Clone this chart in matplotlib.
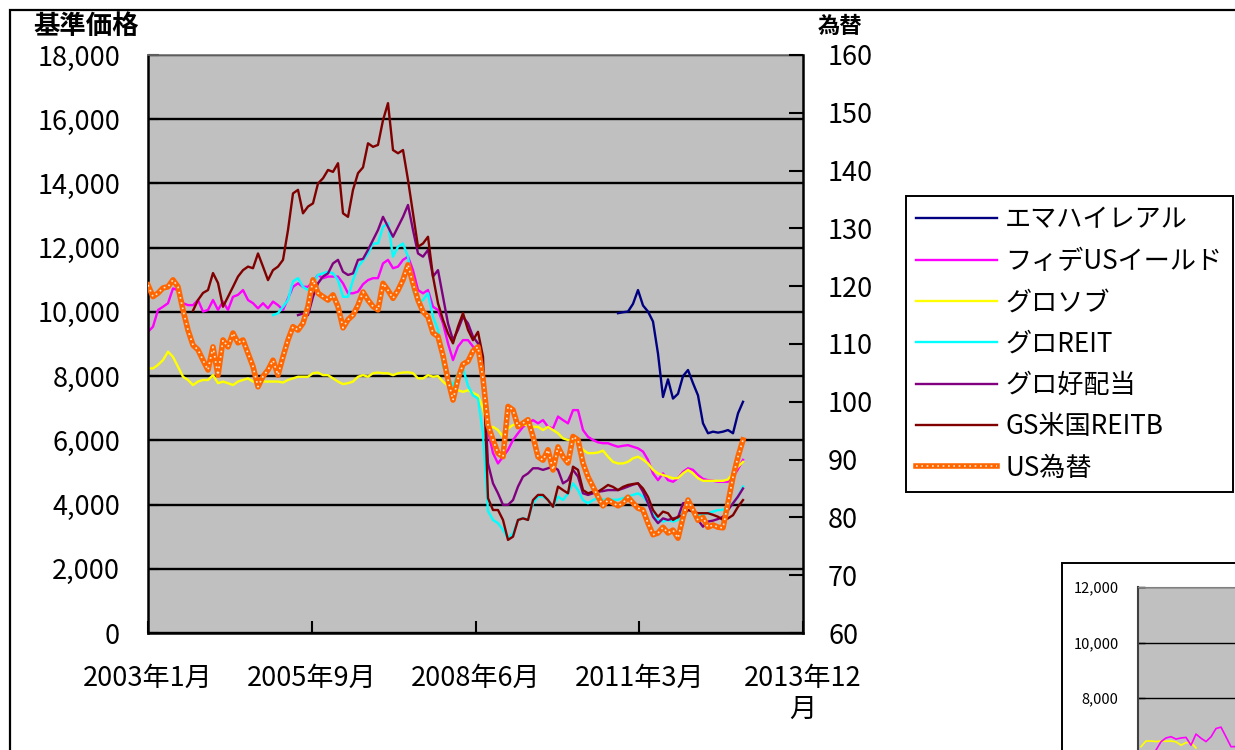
import matplotlib
matplotlib.use('Agg')
import matplotlib.pyplot as plt
import numpy as np
from matplotlib.lines import Line2D
from matplotlib.legend_handler import HandlerTuple
from matplotlib.patches import Rectangle
from matplotlib.ticker import FuncFormatter, MultipleLocator, FixedLocator

plt.rcParams['font.family'] = ['Noto Sans CJK JP', 'DejaVu Sans']

# ---------------- data (monthly, index 0 = 2003年1月) ----------------
x_tick_pos = [0, 32.75, 65.5, 98.25, 131]
x_tick_labels = ['2003年1月', '2005年9月', '2008年6月', '2011年3月', '2013年12\n月']

names = ['エマハイレアル', 'フィデUSイールド', 'グロソブ', 'グロREIT', 'グロ好配当', 'GS米国REITB']
colors = ['#000080', '#FF00FF', '#FFFF00', '#00FFFF', '#800080', '#800000']

emahai_start = 94
emahai = [9960, 9990, 10010, 10250, 10680, 10200, 10010, 9700, 8700, 7350,
          7900, 7300, 7450, 8000, 8190, 7780, 7400, 6530, 6220, 6270,
          6240, 6270, 6320, 6220, 6840, 7200]

fide_start = 0
fide = [9380, 9540, 10060, 10160, 10270, 10730, 10680, 10270, 10210, 10210,
        10370, 10010, 10060, 10370, 10060, 10320, 10060, 10470, 10530, 10680,
        10370, 10270, 10110, 10270, 10110, 10320, 10210, 10060, 10420, 10780,
        10890, 10780, 10780, 10940, 11150, 11050, 11100, 11100, 11100, 10890,
        10580, 10580, 10630, 10860, 10990, 11050, 11050, 11510, 11620, 11360,
        11410, 11620, 11720, 11300, 10680, 10580, 10680, 10160, 10060, 9640,
        9020, 8500, 8920, 9120, 9120, 8920, 8810, 8000, 6300, 5600,
        5280, 5490, 5700, 6010, 6220, 6420, 6530, 6630, 6530, 6630,
        6420, 6370, 6740, 6630, 6530, 6940, 6940, 6320, 6110, 6010,
        5940, 5910, 5910, 5850, 5800, 5830, 5850, 5800, 5750, 5650,
        5390, 4970, 4760, 4970, 4760, 4710, 4820, 5020, 5130, 5080,
        4920, 4800, 4760, 4740, 4710, 4710, 4710, 4870, 5100, 5390]

gurosobu_start = 0
gurosobu = [8240, 8240, 8350, 8500, 8760, 8600, 8290, 7980, 7880, 7720,
            7830, 7880, 7880, 8030, 7780, 7830, 7780, 7720, 7830, 7880,
            7930, 7830, 7830, 7830, 7830, 7830, 7830, 7800, 7880, 7930,
            7980, 7980, 7980, 8090, 8110, 8030, 8030, 7930, 7830, 7750,
            7780, 7830, 7980, 8030, 7980, 8090, 8110, 8090, 8090, 8030,
            8090, 8110, 8120, 8090, 7930, 7930, 8030, 7980, 8000, 7830,
            7700, 7640, 7560, 7510, 7560, 7480, 7400, 7000, 6350, 6420,
            6320, 6110, 6370, 6480, 6480, 6480, 6480, 6420, 6420, 6320,
            6420, 6320, 6220, 6060, 6010, 6010, 5910, 5700, 5600, 5600,
            5620, 5680, 5490, 5330, 5280, 5280, 5330, 5440, 5490, 5400,
            5280, 5080, 4970, 4920, 4870, 4820, 4820, 4970, 5080, 4970,
            4820, 4740, 4740, 4740, 4740, 4740, 4780, 4970, 5180, 5330]

groreit_start = 25
groreit = [9900, 9960, 10160, 10370, 10950,
           11050, 10780, 10680, 10900, 11150, 11200, 11250, 11200, 10990, 10470,
           10470, 10990, 11410, 11600, 11820, 12130, 12130, 12650, 12760, 11720,
           12030, 12130, 11720, 10680, 10270, 10370, 10580, 9850, 9440, 8300,
           7980, 7700, 8090, 8240, 7700, 7400, 7300, 6200, 3800, 3520,
           3420, 3210, 2950, 3110, 3520, 3580, 3520, 4040, 4250, 4250,
           4140, 3930, 4250, 4140, 4350, 4660, 4450, 4140, 4040, 4140,
           4200, 4150, 4170, 4150, 4150, 4200, 4250, 4300, 4350, 4250,
           4040, 3730, 3520, 3470, 3520, 3470, 3520, 3830, 4040, 3830,
           3670, 3700, 3730, 3780, 3830, 3830, 3990, 4040, 4250, 4560]

kouhaitou_start = 30
kouhaitou = [9900, 9950, 9900, 10470, 10890, 11100, 11200, 11510, 11620, 11250,
             11150, 11200, 11620, 11650, 11930, 12240, 12550, 12960, 12650, 12340,
             12650, 12960, 13330, 12550, 11820, 11720, 11930, 11100, 11300, 10470,
             9640, 9120, 9440, 9850, 9640, 9230, 9020, 8200, 5280, 4660,
             4350, 3990, 3990, 4140, 4560, 4870, 4970, 5130, 5130, 5080,
             5130, 5180, 5080, 4660, 4760, 5080, 4870, 4350, 4300, 4350,
             4400, 4420, 4450, 4450, 4450, 4500, 4560, 4620, 4660, 4400,
             4040, 3620, 3420, 3570, 3520, 3570, 3600, 4040, 4060, 3830,
             3520, 3310, 3470, 3500, 3550, 3620, 3830, 4040, 4250, 4500]

gsreit_start = 9
gsreit = [10040, 10370, 10590, 10680, 11210, 10900, 10160, 10470, 10780, 11100, 11300,
          11410, 11360, 11820, 11410, 10990, 11300, 11410, 11620, 12550, 13690,
          13800, 13070, 13280, 13380, 14000, 14160, 14420, 14360, 14630, 13070,
          12960, 13800, 14320, 14500, 15250, 15140, 15200, 15970, 16500, 15040,
          14940, 15040, 14110, 13070, 12030, 12130, 12340, 11100, 10270, 9750,
          9330, 9020, 9540, 9960, 9440, 9120, 9380, 8600, 4200, 3830,
          3830, 3520, 2900, 3000, 3520, 3570, 3520, 4140, 4300, 4300,
          4140, 3930, 4560, 4450, 4350, 5180, 5080, 4450, 4350, 4400,
          4400, 4500, 4610, 4550, 4450, 4550, 4610, 4640, 4660, 4500,
          4240, 3830, 3620, 3780, 3730, 3520, 3620, 3670, 3830, 3780,
          3730, 3730, 3730, 3680, 3620, 3520, 3570, 3670, 3930, 4140]

usd_name = 'US為替'
usd_start = 0
usd = [120.2, 118.2, 118.8, 119.7, 119.9, 121.1, 119.9, 115.9, 112.4, 109.8,
       109.0, 107.2, 105.5, 109.5, 104.6, 110.7, 109.5, 111.9, 110.2, 110.7,
       108.4, 106.1, 102.6, 104.4, 105.5, 107.2, 104.6, 107.8, 110.7, 113.0,
       112.4, 113.6, 116.5, 121.1, 118.8, 118.2, 117.6, 118.5, 116.5, 112.8,
       114.2, 115.0, 116.7, 119.0, 117.6, 116.5, 115.9, 120.5, 119.3, 117.9,
       119.3, 121.1, 123.7, 120.5, 117.6, 115.6, 114.7, 111.9, 111.3, 108.0,
       103.8, 100.3, 104.0, 106.5, 107.0, 108.8, 109.5, 104.0, 96.0, 93.4,
       91.1, 90.5, 99.2, 98.6, 95.7, 96.3, 96.9, 94.0, 90.5, 89.9,
       91.7, 88.2, 92.2, 90.5, 89.4, 94.0, 93.4, 89.4, 87.0, 85.3,
       83.6, 82.0, 83.0, 82.5, 82.0, 82.5, 83.5, 82.5, 81.6, 81.3,
       79.0, 77.0, 77.3, 78.3, 77.3, 77.8, 76.4, 80.0, 83.0, 81.3,
       79.5, 80.0, 78.3, 78.7, 78.3, 78.2, 82.5, 87.0, 90.5, 93.4]

# small second chart (partly visible, bottom right)
inset_yellow = [6245, 6450, 6450, 6430, 6450, 6440, 6450, 6420, 6300, 6390, 6390, 6200]
inset_magenta_start = 3
inset_magenta = [6125, 6425, 6560, 6605, 6520, 6560, 6580, 6300, 6700, 6550,
                 6430, 6600, 6900, 6950, 6600, 6245, 6250]

# ---------------- figure ----------------
W, H = 1235, 750
fig = plt.figure(figsize=(W / 100, H / 100), dpi=100)
fig.patch.set_facecolor('white')


def px(x0, y0, x1, y1):
    return [x0 / W, 1 - y1 / H, (x1 - x0) / W, (y1 - y0) / H]


# outer chart frame
fig.patches.append(Rectangle((10 / W, -0.5), 2.0, 1.5 - 10 / H, transform=fig.transFigure,
                             fill=False, ec='black', lw=1.6, zorder=0))

ax = fig.add_axes(px(148, 55, 803, 633))
ax.set_facecolor('#C0C0C0')
ax.set_xlim(0, 131)
ax.set_ylim(0, 18000)
ax.yaxis.set_major_locator(MultipleLocator(2000))
ax.yaxis.set_major_formatter(FuncFormatter(lambda v, p: f'{int(v):,}'))
ax.set_xticks(x_tick_pos)
ax.set_xticklabels(x_tick_labels)
ax.grid(axis='y', color='black', lw=1.7)
ax.set_axisbelow(True)
ax.tick_params(axis='y', direction='in', length=8, width=1.5, pad=20, labelsize=19.5)
ax.tick_params(axis='x', direction='in', length=9, width=1.5, pad=23, labelsize=19.5)
for s in ['left', 'bottom']:
    ax.spines[s].set_color('black')
    ax.spines[s].set_linewidth(1.8)
ax.spines['top'].set_color('#707070')
ax.spines['top'].set_linewidth(1.2)
ax.spines['right'].set_visible(False)

series = [(emahai_start, emahai), (fide_start, fide), (gurosobu_start, gurosobu),
          (groreit_start, groreit), (kouhaitou_start, kouhaitou), (gsreit_start, gsreit)]
handles = []
for (start, vals), name, col in zip(series, names, colors):
    xs = np.arange(start, start + len(vals))
    ln, = ax.plot(xs, vals, color=col, lw=1.7, label=name, solid_joinstyle='round')
    handles.append(ln)

ax2 = ax.twinx()
ax2.set_ylim(60, 160)
ax2.yaxis.set_major_locator(MultipleLocator(10))
ax2.tick_params(axis='y', direction='in', length=10, width=1.5, pad=18, labelsize=19.5)
for s in ['left', 'bottom', 'top']:
    ax2.spines[s].set_visible(False)
ax2.spines['right'].set_color('black')
ax2.spines['right'].set_linewidth(1.8)
xs = np.arange(usd_start, usd_start + len(usd))
ax2.plot(xs, usd, color='#FF6600', lw=4.0, solid_joinstyle='round')
ax2.plot(xs, usd, color='#FFE8D4', lw=1.2, ls=(0, (1.0, 2.2)))

fig.text(33 / W, 1 - 26 / H, '基準価格', fontsize=19, fontweight='bold', va='center', ha='left')
fig.text(818 / W, 1 - 26 / H, '為替', fontsize=16, fontweight='bold', va='center', ha='left')

lh1 = Line2D([], [], color='#FF6600', lw=4.0)
lh2 = Line2D([], [], color='#FFE8D4', lw=1.2, ls=(0, (1.0, 2.2)))
leg = fig.legend(handles + [(lh1, lh2)], names + [usd_name],
                 handler_map={tuple: HandlerTuple(ndivide=1, pad=0)},
                 loc='upper left', bbox_to_anchor=(906 / W, 1 - 196 / H),
                 bbox_transform=fig.transFigure, borderaxespad=0,
                 fontsize=18.8, frameon=True, fancybox=False, edgecolor='black',
                 framealpha=1, borderpad=0.4, handlelength=3.1, handletextpad=0.3,
                 labelspacing=0.55)
leg.get_frame().set_linewidth(1.4)

# ---------------- small second chart ----------------
fig.patches.append(Rectangle((1062 / W, -0.5), 1.0, 0.5 + 1 - 563 / H, transform=fig.transFigure,
                             fc='white', ec='black', lw=1.4, zorder=1))
ai = fig.add_axes([1138 / W, 1 - 920 / H, 200 / W, 333 / H])
ai.set_zorder(2)
ai.set_facecolor('#C0C0C0')
ai.set_ylim(0, 12000)
ai.set_xlim(-0.6, 39.4)
ai.yaxis.set_major_locator(FixedLocator([8000, 10000, 12000]))
ai.yaxis.set_major_formatter(FuncFormatter(lambda v, p: f'{int(v):,}'))
ai.set_xticks([])
ai.grid(axis='y', color='black', lw=1.0)
ai.set_axisbelow(True)
ai.tick_params(axis='y', direction='in', length=5, width=1.0, pad=14, labelsize=10.5)
ai.spines['left'].set_color('#404040')
ai.spines['left'].set_linewidth(1.5)
ai.spines['top'].set_color('#808080')
for s in ['right', 'bottom']:
    ai.spines[s].set_visible(False)
ai.plot(np.arange(len(inset_yellow)), inset_yellow, color='#FFFF00', lw=1.2)
ai.plot(np.arange(inset_magenta_start, inset_magenta_start + len(inset_magenta)), inset_magenta,
        color='#FF00FF', lw=1.2)

fig.savefig('out.png', dpi=100)
